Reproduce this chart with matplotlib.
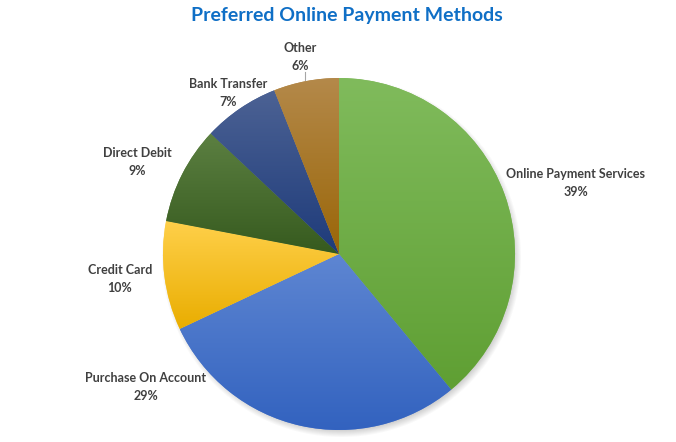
import numpy as np
import matplotlib
matplotlib.use("Agg")
import matplotlib.pyplot as plt
from matplotlib.colors import LinearSegmentedColormap

# data
methods = ["Online Payment Services", "Purchase On Account", "Credit Card",
           "Direct Debit", "Bank Transfer", "Other"]
shares = [39, 29, 10, 9, 7, 6]

# gradient colours per slice (top, bottom)
tops = ["#80bb5c", "#5e86d2", "#ffd04a", "#5c8042", "#4c6294", "#b4894a"]
bottoms = ["#5f9f33", "#3262bf", "#e9ad00", "#365a1e", "#1e3b7a", "#9a6608"]

# layout in pixels (figure is 676 x 442, y measured from top)
W, H = 676, 442
cx, cy, r = 339, 254, 176
label_pos = [(576, 183), (146, 387), (120, 279), (137, 162), (228, 93), (300, 57)]


def main():
    fig = plt.figure(figsize=(W / 100, H / 100), dpi=100)
    ax = fig.add_axes([0, 0, 1, 1])

    # soft shadow under the pie
    yy, xx = np.mgrid[0:H, 0:W]
    d = np.hypot(xx - (cx + 2), yy - (cy + 3))
    alpha = np.clip((r + 4 - d) / 8.0, 0, 1) * 0.35
    shadow = np.zeros((H, W, 4))
    shadow[..., :3] = 0.45
    shadow[..., 3] = alpha
    ax.imshow(shadow, extent=(0, W, 0, H), origin="upper", zorder=0, interpolation="bilinear")

    wedges, _ = ax.pie(shares, startangle=90, counterclock=False,
                       center=(cx, H - cy), radius=r, colors=tops,
                       wedgeprops=dict(linewidth=0))

    # vertical gradient inside every wedge
    grad = np.linspace(0, 1, 256).reshape(-1, 1)
    for w, c1, c2 in zip(wedges, tops, bottoms):
        v = w.get_path().vertices
        x0, x1 = v[:, 0].min(), v[:, 0].max()
        y0, y1 = v[:, 1].min(), v[:, 1].max()
        cmap = LinearSegmentedColormap.from_list("g", [c1, c2])
        im = ax.imshow(grad, cmap=cmap, extent=(x0, x1, y0, y1), origin="upper",
                       aspect="auto", zorder=2, interpolation="bilinear")
        im.set_clip_path(w)

    # data labels
    for name, val, (lx, ly) in zip(methods, shares, label_pos):
        ax.text(lx, H - ly, "{}\n{}%".format(name, val), ha="center", va="center",
                fontsize=9, fontweight="bold", color="#404040", family="Lato",
                linespacing=1.55, zorder=5)

    # leader line for "Other"
    ax.plot([305, 305], [H - 72, H - 80], color="#a6a6a6", lw=0.8, zorder=5)

    ax.text(347, H - 16, "Preferred Online Payment Methods", ha="center", va="center",
            fontsize=14, fontweight="bold", color="#0f6fc6", family="Lato")

    ax.set_xlim(0, W)
    ax.set_ylim(0, H)
    ax.set_aspect("auto")
    ax.axis("off")
    fig.savefig("out.png", dpi=100, facecolor="white")


if __name__ == '__main__':
    main()
